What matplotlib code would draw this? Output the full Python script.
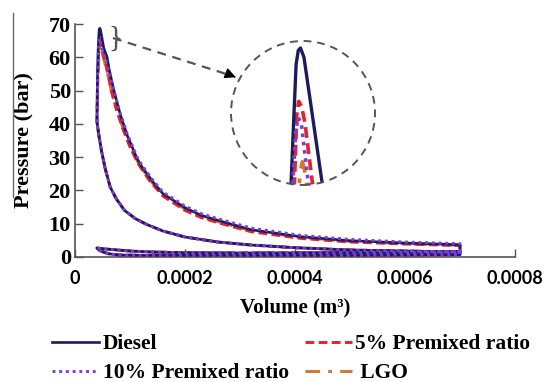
import matplotlib
matplotlib.use("Agg")
import matplotlib.pyplot as plt
import numpy as np
from matplotlib.lines import Line2D
from matplotlib.patches import Circle

# ---- data (volume in m^3, pressure in bar) ----
# compression stroke, shared by all fuels
V_COMP = [7.0e-4, 6.0e-4, 5.0e-4, 4.0e-4, 3.2e-4, 2.6e-4, 2.0e-4, 1.6e-4, 1.3e-4,
          1.1e-4, 9.0e-5, 7.5e-5, 6.4e-5, 5.5e-5, 4.8e-5, 4.3e-5, 4.0e-5]
P_COMP = [1.5, 1.8, 2.1, 2.8, 3.6, 4.5, 6.0, 7.8, 9.8,
          11.5, 14.0, 17.5, 21.0, 26.5, 32.0, 37.0, 40.5]

# gas exchange loop, shared by all fuels
V_GAS = [7.0e-4, 6.0e-4, 4.5e-4, 3.0e-4, 2.0e-4, 1.4e-4, 1.0e-4, 7.0e-5, 5.0e-5,
         4.0e-5, 4.5e-5, 6.0e-5, 8.0e-5, 1.2e-4, 2.0e-4, 3.5e-4, 5.0e-4, 6.0e-4,
         7.0e-4, 7.0e-4]
P_GAS = [1.6, 1.4, 1.3, 1.2, 1.3, 1.5, 1.8, 2.2, 2.5,
         2.7, 1.9, 1.0, 0.6, 0.5, 0.5, 0.5, 0.5, 0.6,
         0.7, 1.5]

# combustion + expansion, per fuel
V_DIESEL = [4.0e-5, 4.05e-5, 4.12e-5, 4.22e-5, 4.3e-5, 4.38e-5, 4.45e-5, 4.52e-5, 4.63e-5,
            4.9e-5, 5.21e-5, 5.5e-5, 5.8e-5, 6.2e-5, 7.0e-5, 8.2e-5, 9.5e-5, 1.13e-4,
            1.22e-4, 1.42e-4, 1.6e-4, 2.0e-4, 2.3e-4, 2.6e-4, 3.2e-4, 4.1e-4, 5.0e-4,
            6.0e-4, 7.0e-4]
P_DIESEL = [42, 50, 57, 62.9, 65.5, 68.0, 68.6, 68.7, 68.3,
            65.8, 62.9, 61.5, 60.3, 56.5, 50.5, 43, 36.5, 29.5,
            27, 22.5, 19, 14.8, 12.5, 11, 8.2, 6.1, 4.9,
            4.2, 3.7]

V_PM5 = [4.0e-5, 4.1e-5, 4.25e-5, 4.33e-5, 4.4e-5, 4.46e-5, 4.55e-5, 4.66e-5, 4.89e-5,
         5.3e-5, 5.9e-5, 6.6e-5, 7.5e-5, 8.7e-5, 1.0e-4, 1.15e-4, 1.35e-4, 1.6e-4,
         2.0e-4, 2.3e-4, 2.6e-4, 3.2e-4, 4.1e-4, 5.0e-4, 6.0e-4, 7.0e-4]
P_PM5 = [42, 52, 60, 63, 65.8, 66.4, 66.2, 65.5, 63,
         60, 55.5, 50, 44.5, 38.5, 33, 28, 23, 18.3,
         14, 11.8, 10.3, 7.6, 5.6, 4.5, 3.9, 3.4]

V_PM10 = [4.0e-5, 4.1e-5, 4.2e-5, 4.28e-5, 4.37e-5, 4.45e-5, 4.55e-5, 4.76e-5, 5.1e-5,
          5.5e-5, 6.2e-5, 7.0e-5, 8.2e-5, 9.5e-5, 1.13e-4, 1.22e-4, 1.42e-4, 1.6e-4,
          2.0e-4, 2.3e-4, 2.6e-4, 3.2e-4, 4.1e-4, 5.0e-4, 6.0e-4, 7.0e-4]
P_PM10 = [42, 52, 60, 63, 65.2, 65.7, 65.4, 63, 61.5,
          59.5, 55.5, 50.5, 43.3, 37, 30, 27.5, 23, 19.5,
          15.3, 13, 11.5, 8.7, 6.5, 5.3, 4.5, 4.0]

V_LGO = [4.0e-5, 4.15e-5, 4.3e-5, 4.45e-5, 4.53e-5, 4.58e-5, 4.64e-5, 4.72e-5, 4.9e-5,
         5.3e-5, 5.9e-5, 6.6e-5, 7.5e-5, 8.7e-5, 1.0e-4, 1.15e-4, 1.35e-4, 1.6e-4,
         2.0e-4, 2.3e-4, 2.6e-4, 3.2e-4, 4.1e-4, 5.0e-4, 6.0e-4, 7.0e-4]
P_LGO = [42, 53, 59, 62.5, 63.5, 63.8, 63.5, 62.8, 61.5,
         59, 55, 50, 44.5, 38.8, 33.3, 28.3, 23.3, 18.6,
         14.4, 12.1, 10.6, 7.9, 5.9, 4.7, 4.0, 3.5]

LABELS = ["Diesel", "5% Premixed ratio", "10% Premixed ratio", " LGO"]
X_TICKS = [0, 0.0002, 0.0004, 0.0006, 0.0008]
X_TICK_LABELS = ["0", "0.0002", "0.0004", "0.0006", "0.0008"]
Y_TICKS = [0, 10, 20, 30, 40, 50, 60, 70]
Y_TICK_LABELS = ["0", "10", "20", "30", "40", "50", "60", "70"]

SERIF = "Liberation Serif"
plt.rcParams["font.family"] = SERIF
plt.rcParams["font.weight"] = "bold"


def cycle(v_exp, p_exp):
    v = np.concatenate([V_COMP, v_exp, V_GAS])
    p = np.concatenate([P_COMP, p_exp, P_GAS])
    return v, p


series = [
    # (volume, pressure, label, color, linestyle, linewidth, zorder)
    (V_LGO, P_LGO, LABELS[3], "#d0782f", (0, (5, 2.8, 1.3, 2.8)), 2.1, 2),
    (V_PM5, P_PM5, LABELS[1], "#e3222b", (0, (3, 1.5)), 2.1, 3),
    (V_DIESEL, P_DIESEL, LABELS[0], "#1c1c5c", "-", 1.9, 4),
    (V_PM10, P_PM10, LABELS[2], "#7a3de0", (0, (1, 1.3)), 2.1, 5),
]

fig = plt.figure(figsize=(5.47, 3.82), dpi=100)
ax = fig.add_axes([75 / 547, 125 / 382, 440 / 547, 233 / 382])

handles = {}
for v_exp, p_exp, label, color, ls, lw, z in series:
    v, p = cycle(v_exp, p_exp)
    (ln,) = ax.plot(v, p, color=color, linestyle=ls, linewidth=lw, zorder=z, label=label)
    handles[label] = ln

ax.set_xlim(0, 0.0008)
ax.set_ylim(0, 70)
ax.tick_params(direction="in", length=6, width=1, color="#555555")
ax.tick_params(axis="x", pad=9)
ax.tick_params(axis="y", pad=3)
ax.set_xticks(X_TICKS, labels=X_TICK_LABELS, fontfamily="Lato", fontweight="bold",
              fontsize=13)
ax.set_yticks(Y_TICKS, labels=Y_TICK_LABELS, fontfamily=SERIF, fontweight="bold",
              fontsize=16)
for side in ("top", "right"):
    ax.spines[side].set_visible(False)
for side in ("left", "bottom"):
    ax.spines[side].set_color("#555555")
    ax.spines[side].set_linewidth(1.2)

ax.set_xlabel("Volume (m³)", fontfamily=SERIF, fontweight="bold", fontsize=15, labelpad=8)
ax.set_ylabel("Pressure (bar)", fontfamily=SERIF, fontweight="bold", fontsize=16, labelpad=11)

# bracket and dashed arrow pointing to the zoomed circle
ax.text(6.0e-5, 65.6, "}", fontfamily=SERIF, fontweight="normal", fontsize=21,
        color="#555555", ha="left", va="center")
ax.plot([6.9e-5, 2.88e-4], [65.8, 54.3], color="#555555", linestyle=(0, (4, 3)),
        linewidth=1.6, clip_on=False)
ax.annotate("", xy=(2.97e-4, 53.7), xytext=(2.85e-4, 54.5),
            arrowprops=dict(arrowstyle="-|>", color="black", lw=1, mutation_scale=16))

# thin line left of the y label
fig.add_artist(Line2D([12.7 / 547, 12.7 / 547], [1 - 13 / 382, 1 - 197 / 382],
                      color="#666666", linewidth=1))

# circular zoom inset on the pressure peak
ins = fig.add_axes([(303 - 72) / 547, (382 - 185) / 382, 144 / 547, 144 / 382])
ins.set_axis_off()
ins.set_xlim(2.3e-5, 6.9e-5)
ins.set_ylim(62.8, 69.0)
circ = Circle((0.5, 0.5), 0.5, transform=ins.transAxes, facecolor="white",
              edgecolor="none", zorder=0)
ins.add_patch(circ)
for v_exp, p_exp, label, color, ls, lw, z in series:
    v, p = cycle(v_exp, p_exp)
    (ln,) = ins.plot(v, p, color=color, linestyle=ls, linewidth=lw + 0.5, zorder=z,
                     solid_joinstyle="round")
    ln.set_clip_path(circ)
ins.add_patch(Circle((0.5, 0.5), 0.5, transform=ins.transAxes, facecolor="none",
                     edgecolor="#555555", linestyle=(0, (4, 3)), linewidth=1.4,
                     zorder=10, clip_on=False))

order = [LABELS[0], LABELS[2], LABELS[1], LABELS[3]]
fig.legend([handles[k] for k in order], order, ncol=2, loc="upper left",
           bbox_to_anchor=(52 / 547, 1 - 334 / 382), frameon=False,
           prop={"family": SERIF, "weight": "bold", "size": 15.5},
           handlelength=2.2, handletextpad=0.15, columnspacing=0.75,
           labelspacing=0.42, borderpad=0, borderaxespad=0)

fig.savefig("out.png", dpi=100)
